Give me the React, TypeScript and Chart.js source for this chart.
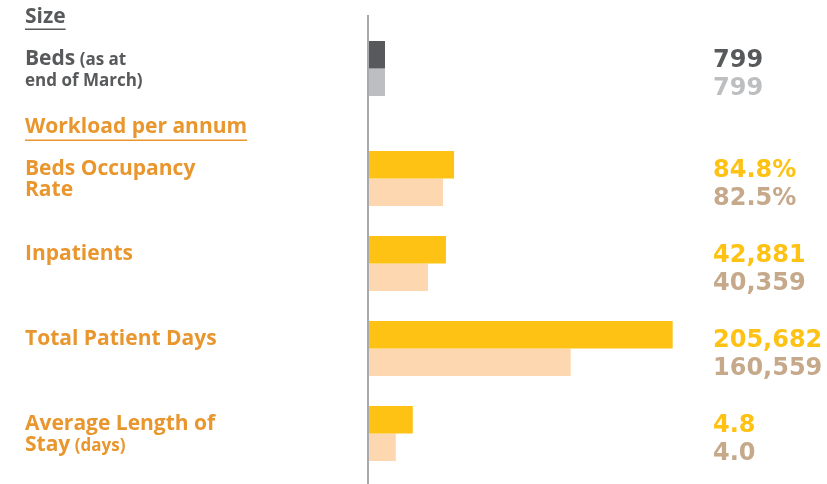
import React, { useEffect, useRef } from 'react';
import { Chart, registerables } from 'chart.js';

Chart.register(...registerables);

// ---------- data ----------
const sizeHeader = 'Size';
const workloadHeader = 'Workload per annum';

const sizeCategories = ['Beds'];
const sizeCurrent = [799];
const sizePrevious = [799];
const sizeCurrentLabels = ['799'];
const sizePreviousLabels = ['799'];
// label lines: [text, isSmall]
const sizeLabelLines: [string, boolean][][][] = [
  [[['Beds', false], [' (as at', true]], [['end of March)', true]]],
];

const workloadCategories = ['Beds Occupancy Rate', 'Inpatients', 'Total Patient Days', 'Average Length of Stay'];
const workloadCurrent = [84.8, 42881, 205682, 4.8];
const workloadPrevious = [82.5, 40359, 160559, 4.0];
const workloadCurrentLabels = ['84.8%', '42,881', '205,682', '4.8'];
const workloadPreviousLabels = ['82.5%', '40,359', '160,559', '4.0'];
const workloadLabelLines: [string, boolean][][][] = [
  [[['Beds Occupancy', false]], [['Rate', false]]],
  [[['Inpatients', false]]],
  [[['Total Patient Days', false]]],
  [[['Average Length of', false]], [['Stay', false], [' (days)', true]]],
];

// per-row (truncated) axis domains, as used by the original graphic
const sizeAxisMin = [0];
const sizeAxisMax = [22700];
const workloadAxisMin = [67, 32100, 71300, 2.74];
const workloadAxisMax = [162, 95700, 272200, 24.1];

// ---------- styles ----------
const W = 827;
const H = 484;
const LABEL_X = 25;
const VALUE_X = 713;
const BIG_FONT = '700 21px "Open Sans"';
const SMALL_FONT = '700 17px "Open Sans"';
const VALUE_FONT = 'bold 24px "DejaVu Sans"';
const GRAY_DARK = '#58595B';
const GRAY_LIGHT = '#BCBEC0';
const ORANGE = '#E8962D';
const YELLOW = '#FEC214';
const PEACH = '#FDD7B0';
const TAN = '#C6A88A';
const AXIS = '#A7A9AC';

type Cfg = {
  labels: string[];
  cur: number[];
  prev: number[];
  lo: number[];
  hi: number[];
  curLabels: string[];
  prevLabels: string[];
  lines: [string, boolean][][][];
  padTop: number;
  padBottom: number;
  barColors: [string, string];
  valueColors: [string, string];
  labelColor: string;
  extras: boolean;
};

function drawRich(ctx: CanvasRenderingContext2D, segs: [string, boolean][], x: number, y: number, color: string) {
  let cx = x;
  ctx.fillStyle = color;
  for (const [t, small] of segs) {
    ctx.font = small ? SMALL_FONT : BIG_FONT;
    ctx.fillText(t, cx, y);
    cx += ctx.measureText(t).width;
  }
}

function build(canvas: HTMLCanvasElement, c: Cfg) {
  const norm = (arr: number[]) => arr.map((v, i) => (v - c.lo[i]) / (c.hi[i] - c.lo[i]));
  const textPlugin = {
    id: 'texts',
    afterDraw(chart: any) {
      const ctx: CanvasRenderingContext2D = chart.ctx;
      const yScale = chart.scales.y;
      ctx.save();
      ctx.textBaseline = 'alphabetic';
      ctx.textAlign = 'left';
      if (c.extras) {
        // vertical axis line
        ctx.fillStyle = AXIS;
        ctx.fillRect(chart.chartArea.left - 2, 15, 2, H - 15);
        // headers
        ctx.font = BIG_FONT;
        ctx.fillStyle = GRAY_DARK;
        ctx.fillText(sizeHeader, LABEL_X, 23);
        let w = ctx.measureText(sizeHeader).width;
        ctx.fillRect(LABEL_X, 28.5, w, 1.5);
        ctx.fillStyle = ORANGE;
        ctx.fillText(workloadHeader, LABEL_X, 133);
        w = ctx.measureText(workloadHeader).width;
        ctx.fillRect(LABEL_X, 139.5, w, 1.5);
      }
      c.labels.forEach((_, i) => {
        const yc = yScale.getPixelForValue(i);
        c.lines[i].forEach((segs, li) => {
          drawRich(ctx, segs, LABEL_X, yc - 4 + li * 21, c.labelColor);
        });
      });
      ctx.font = VALUE_FONT;
      [c.curLabels, c.prevLabels].forEach((lbls, d) => {
        const meta = chart.getDatasetMeta(d);
        ctx.fillStyle = c.valueColors[d];
        meta.data.forEach((el: any, i: number) => {
          ctx.fillText(lbls[i], VALUE_X, el.y + 12.5);
        });
      });
      ctx.restore();
    },
  };
  return new Chart(canvas, {
    type: 'bar',
    data: {
      labels: c.labels,
      datasets: [
        { label: 'current', data: norm(c.cur), backgroundColor: c.barColors[0], borderWidth: 0 },
        { label: 'previous', data: norm(c.prev), backgroundColor: c.barColors[1], borderWidth: 0 },
      ],
    },
    options: {
      indexAxis: 'y',
      responsive: false,
      maintainAspectRatio: false,
      animation: false,
      events: [],
      layout: { padding: { left: 369, right: 4, top: c.padTop, bottom: c.padBottom } },
      datasets: { bar: { categoryPercentage: 55 / 85, barPercentage: 1 } },
      scales: {
        x: { type: 'linear', min: 0, max: 1, display: false },
        y: { type: 'category', display: false, offset: true },
      },
      plugins: { legend: { display: false }, tooltip: { enabled: false } },
    } as any,
    plugins: [textPlugin],
  });
}

export default function App() {
  const ref1 = useRef<HTMLCanvasElement>(null);
  const ref2 = useRef<HTMLCanvasElement>(null);
  useEffect(() => {
    const c1 = build(ref1.current!, {
      labels: sizeCategories,
      cur: sizeCurrent,
      prev: sizePrevious,
      lo: sizeAxisMin,
      hi: sizeAxisMax,
      curLabels: sizeCurrentLabels,
      prevLabels: sizePreviousLabels,
      lines: sizeLabelLines,
      padTop: 26,
      padBottom: H - 111,
      barColors: [GRAY_DARK, GRAY_LIGHT],
      valueColors: [GRAY_DARK, GRAY_LIGHT],
      labelColor: GRAY_DARK,
      extras: true,
    });
    const c2 = build(ref2.current!, {
      labels: workloadCategories,
      cur: workloadCurrent,
      prev: workloadPrevious,
      lo: workloadAxisMin,
      hi: workloadAxisMax,
      curLabels: workloadCurrentLabels,
      prevLabels: workloadPreviousLabels,
      lines: workloadLabelLines,
      padTop: 136,
      padBottom: 8,
      barColors: [YELLOW, PEACH],
      valueColors: [YELLOW, TAN],
      labelColor: ORANGE,
      extras: false,
    });
    let alive = true;
    (document as any).fonts?.ready?.then(() => {
      if (alive) {
        c1.update();
        c2.update();
      }
    });
    return () => {
      alive = false;
      c1.destroy();
      c2.destroy();
    };
  }, []);
  const st: React.CSSProperties = { position: 'absolute', left: 0, top: 0, width: W, height: H };
  return (
    <div style={{ position: 'absolute', left: 0, top: 0, width: W, height: H, background: '#fff' }}>
      <canvas ref={ref1} width={W} height={H} style={st} />
      <canvas ref={ref2} width={W} height={H} style={st} />
    </div>
  );
}
